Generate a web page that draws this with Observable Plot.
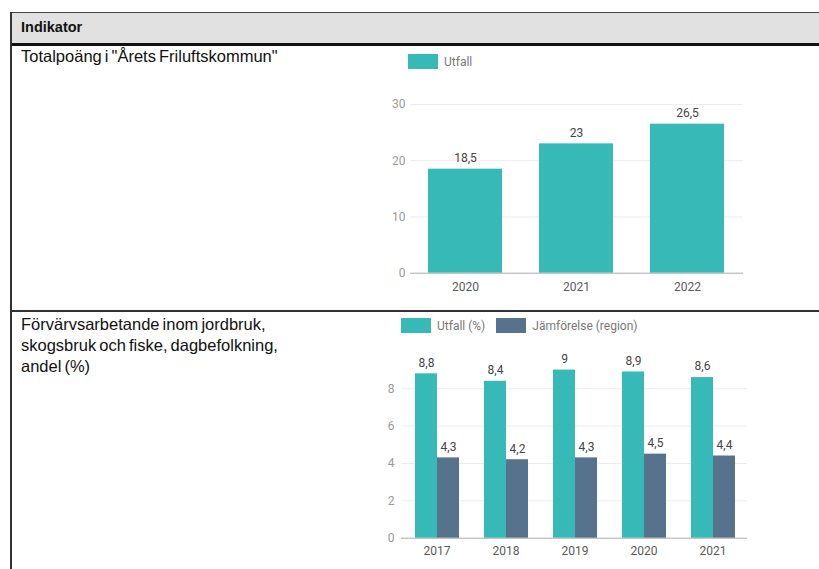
<!DOCTYPE html>
<html>
<head>
<meta charset="utf-8">
<script src="https://cdn.jsdelivr.net/npm/d3@7"></script>
<script src="https://cdn.jsdelivr.net/npm/@observablehq/plot@0.6"></script>
<style>
  html, body { margin: 0; padding: 0; background: #fff; overflow: hidden; width: 819px; height: 569px; }
  .abs { position: absolute; }
  .lbl { font-family: "Liberation Sans", Arial, sans-serif; color: #111; }
  .leg { font-family: Roboto, sans-serif; font-size: 12px; color: #777; white-space: nowrap; }
  .sw { display: inline-block; }
</style>
</head>
<body>
<script>
// ---- data ----
const headerTitle = "Indikator";
const title1 = 'Totalpoäng i "Årets Friluftskommun"';
const title2Lines = ["Förvärvsarbetande inom jordbruk,", "skogsbruk och fiske, dagbefolkning,", "andel (%)"];

const years1 = ["2020", "2021", "2022"];
const utfall1 = [18.5, 23, 26.5];
const yTicks1 = [0, 10, 20, 30];
const series1 = ["Utfall"];

const years2 = ["2017", "2018", "2019", "2020", "2021"];
const utfall2 = [8.8, 8.4, 9, 8.9, 8.6];
const region2 = [4.3, 4.2, 4.3, 4.5, 4.4];
const yTicks2 = [0, 2, 4, 6, 8];
const series2 = ["Utfall (%)", "Jämförelse (region)"];

const colors = ["#37b9b7", "#57728c"];

const fmt = v => String(v).replace(".", ",");

// ---- table frame ----
function div(style, text, cls) {
  const d = document.createElement("div");
  d.className = "abs " + (cls || "");
  Object.assign(d.style, style);
  if (text != null) d.innerHTML = text;
  document.body.appendChild(d);
  return d;
}
div({left: "10px", top: "12px", width: "820px", height: "31px", background: "#e1e1e1", borderTop: "1.5px solid #444"});
div({left: "10px", top: "43px", width: "820px", height: "3px", background: "#111"});
div({left: "10px", top: "310px", width: "820px", height: "1.5px", background: "#333"});
div({left: "10px", top: "12px", width: "2px", height: "560px", background: "#333"});

div({left: "21px", top: "19px", fontSize: "14.5px", fontWeight: "bold", lineHeight: "17px"}, headerTitle, "lbl");
div({left: "21px", top: "46px", fontSize: "16.5px", lineHeight: "21px", wordSpacing: "-1.5px", whiteSpace: "nowrap"}, title1.replace(/"/g, "&quot;"), "lbl");
div({left: "21px", top: "314px", fontSize: "16.5px", lineHeight: "21px", wordSpacing: "-1.5px", whiteSpace: "nowrap"}, title2Lines.join("<br>"), "lbl");

// ---- legends ----
function legend(left, top, names, cols) {
  const d = div({left: left + "px", top: top + "px", display: "flex", alignItems: "center", height: "15px"}, null, "leg");
  names.forEach((n, i) => {
    const s = document.createElement("span");
    s.className = "sw";
    Object.assign(s.style, {width: "30px", height: "15px", background: cols[i], marginRight: "6px", marginLeft: i ? "11px" : "0"});
    d.appendChild(s);
    const t = document.createElement("span");
    t.textContent = n;
    d.appendChild(t);
  });
}
legend(408, 54, series1, colors);
legend(401, 318, series2, colors);

const plotStyle = {fontFamily: "Roboto, sans-serif", fontSize: "12px", background: "transparent"};

// ---- chart 1 ----
const data1 = years1.map((y, i) => ({year: y, value: utfall1[i]}));
const chart1 = Plot.plot({
  width: 380, height: 264,
  marginTop: 58, marginBottom: 37.3, marginLeft: 30, marginRight: 17,
  style: plotStyle,
  x: {domain: years1, paddingInner: 0.33, paddingOuter: 0.165},
  y: {domain: [0, 30]},
  marks: [
    Plot.ruleY(yTicks1.slice(1), {y: d => d, stroke: "#ececec"}),
    Plot.axisY(yTicks1, {tickSize: 0, tickPadding: 5, fill: "#9a9a9a", label: null}),
    Plot.axisX({tickSize: 0, tickPadding: 9, fill: "#5a5a5a", label: null}),
    Plot.barY(data1, {x: "year", y: "value", fill: colors[0]}),
    Plot.ruleY([0], {stroke: "#aaa"}),
    Plot.text(data1, {x: "year", y: "value", text: d => fmt(d.value), dy: -11, fill: "#444"})
  ]
});
div({left: "380px", top: "46px"}).appendChild(chart1);

// ---- chart 2 (grid layer + faceted bar layer, same frame) ----
const dims2 = {width: 380, height: 258, marginTop: 39.9, marginBottom: 31.3, marginLeft: 21, marginRight: 13};
const bandPad2 = {paddingInner: 0.35, paddingOuter: 0.175};

const chart2grid = Plot.plot({
  ...dims2,
  style: plotStyle,
  x: {domain: years2, ...bandPad2, axis: null},
  y: {domain: [0, 10]},
  marks: [
    Plot.ruleY(yTicks2.slice(1), {y: d => d, stroke: "#ececec"}),
    Plot.axisY(yTicks2, {tickSize: 0, tickPadding: 7, fill: "#9a9a9a", label: null}),
    Plot.ruleY([0], {stroke: "#aaa"})
  ]
});

const data2 = [];
years2.forEach((y, i) => {
  data2.push({year: y, series: series2[0], value: utfall2[i]});
  data2.push({year: y, series: series2[1], value: region2[i]});
});
const chart2 = Plot.plot({
  ...dims2,
  style: plotStyle,
  fx: {domain: years2, ...bandPad2, tickSize: 0, tickPadding: 8, label: null, axis: "bottom"},
  x: {domain: series2, padding: 0, axis: null},
  y: {domain: [0, 10], axis: null},
  color: {domain: series2, range: colors},
  marks: [
    Plot.barY(data2, {fx: "year", x: "series", y: "value", fill: "series"}),
    Plot.text(data2, {fx: "year", x: "series", y: "value", text: d => fmt(d.value), dy: -11, fill: "#444"})
  ]
});
div({left: "380px", top: "311px"}).appendChild(chart2grid);
div({left: "380px", top: "311px"}).appendChild(chart2);
// style fx tick labels like chart 1 x labels
chart2.querySelectorAll('[aria-label="fx-axis tick label"] text, [aria-label="fx-axis tick label"]').forEach(g => g.setAttribute("fill", "#5a5a5a"));
</script>
</body>
</html>
